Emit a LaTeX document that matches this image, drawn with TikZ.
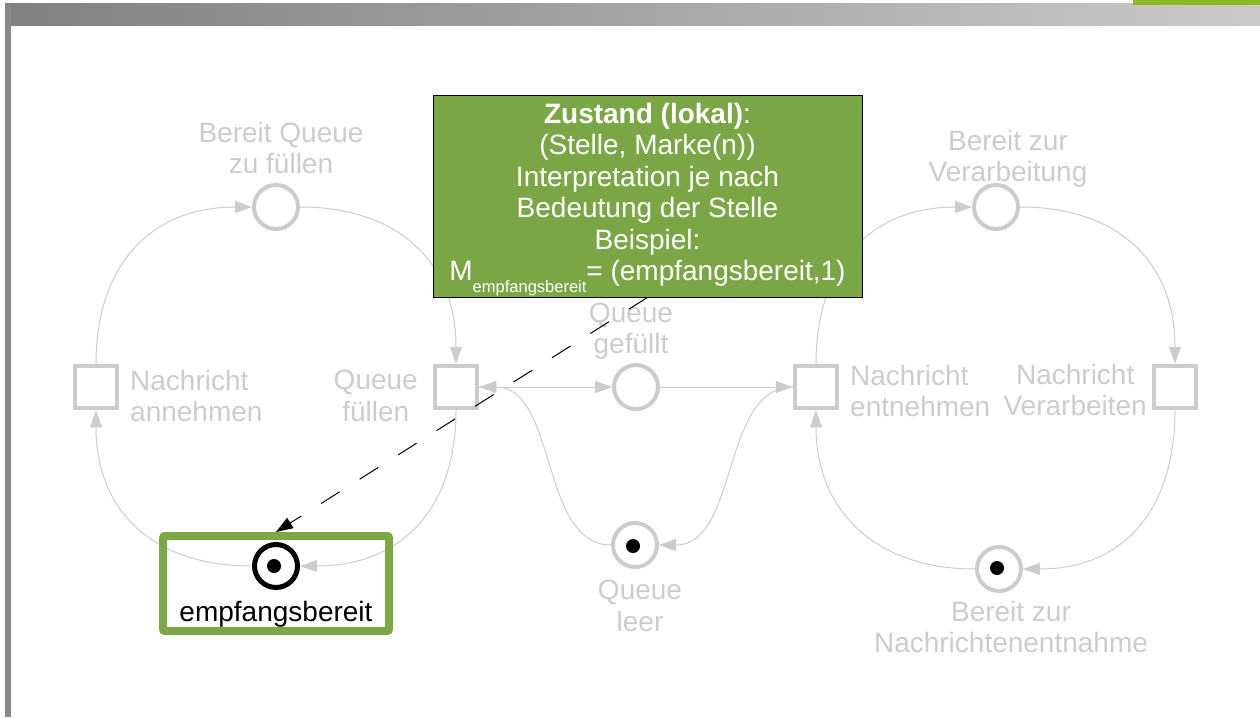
\documentclass[tikz,border=0pt]{standalone}
\usepackage{fontspec}
\setmainfont{Liberation Sans}
\usetikzlibrary{arrows.meta}
\definecolor{petrigray}{RGB}{204,204,204}
\definecolor{hlgreen}{RGB}{125,166,72}
\definecolor{boxgreen}{RGB}{123,166,70}
\definecolor{topgreen}{RGB}{140,184,40}
\definecolor{barleft}{RGB}{128,128,128}
\definecolor{barright}{RGB}{202,202,202}
\definecolor{stripgray}{RGB}{136,136,136}

\begin{document}
\begin{tikzpicture}[x=1pt,y=-1pt,
  place/.style={circle,draw=petrigray,line width=4pt,minimum size=44pt,inner sep=0pt},
  trans/.style={rectangle,draw=petrigray,line width=4.5pt,minimum size=42pt,inner sep=0pt},
  lbl/.style={text=petrigray,align=center,font=\fontsize{28}{31.5}\selectfont,inner sep=0pt},
  flow/.style={draw=petrigray,line width=1pt,-{Triangle[length=17pt,width=12pt]}},
  token/.style={circle,fill=black,minimum size=14pt,inner sep=0pt},
]
\useasboundingbox (0,0) rectangle (1260,717);

% page frame: title bar, left strip, corner tab
\shade[left color=barleft,right color=barright] (5,4) rectangle (1260,26);
\fill[stripgray] (5,4) rectangle (11,717);
\fill[topgreen] (1133,0) rectangle (1260,5);

% places
\node[place] (pBQ) at (276,207) {};
\node[place] (pQG) at (636,387) {};
\node[place] (pQL) at (635,545) {};
\node[place] (pBV) at (996,207) {};
\node[place] (pBN) at (999,569) {};
\node[place,draw=black,line width=5pt,minimum size=43pt] (pE) at (276,566) {};

% transitions
\node[trans] (tNA) at (96,387) {};
\node[trans] (tQF) at (456,387) {};
\node[trans] (tNE) at (816,387) {};
\node[trans] (tNV) at (1175,387) {};

% tokens
\node[token] (kQL) at (633,546) {};
\node[token] (kBN) at (997,568) {};
\node[token] (kE) at (274,566) {};

% labels
\node[lbl] (lBQ) at (281,148) {Bereit Queue\\zu füllen};
\node[lbl,align=left,anchor=west] (lNA) at (130,396) {Nachricht\\annehmen};
\node[lbl,anchor=east] (lQF) at (418,396) {Queue\\füllen};
\node[lbl] (lQG) at (631,331) {Queue\\gefüllt};
\node[lbl] (lQL) at (640,606) {Queue\\leer};
\node[lbl,align=left,anchor=west] (lNE) at (850,391) {Nachricht\\entnehmen};
\node[lbl,anchor=east] (lNV) at (1147,390) {Nachricht\\Verarbeiten};
\node[lbl] (lBV) at (1008,159) {Bereit zur\\Verarbeitung};
\node[lbl] (lBN) at (1011,627) {Bereit zur\\Nachrichtenentnahme};

% arcs, left cycle
\draw[flow] (tNA.north) .. controls +(0,-100) and +(-100,0) .. (pBQ.west);
\draw[flow] (pBQ.east) .. controls +(100,0) and +(0,-100) .. (tQF.north);
\draw[flow] (tQF.south) .. controls +(0,100) and +(100,0) .. (pE.east);
\draw[flow] (pE.west) .. controls +(-100,0) and +(0,100) .. (tNA.south);

% arcs, queue
\draw[flow] (tQF.east) -- (pQG.west);
\draw[flow] (pQL.west) .. controls +(-71,0) and +(78,0) .. (tQF.east);
\draw[flow] (pQG.east) -- (tNE.west);
\draw[flow] (tNE.west) .. controls +(-72,0) and +(80,0) .. (pQL.east);

% arcs, right cycle
\draw[flow] (tNE.north) .. controls +(0,-100) and +(-100,0) .. (pBV.west);
\draw[flow] (pBV.east) .. controls +(100,0) and +(0,-100) .. (tNV.north);
\draw[flow] (tNV.south) .. controls +(0,100) and +(100,0) .. (pBN.east);
\draw[flow] (pBN.west) .. controls +(-100,0) and +(0,100) .. (tNE.south);

% highlighted place
\node[draw=hlgreen,line width=8pt,rounded corners=2pt,minimum width=226pt,minimum height=95pt,inner sep=0pt] (hl) at (276,583.5) {};
\node[inner sep=0pt,font=\fontsize{28}{31.5}\selectfont] (lE) at (276,614) {empfangsbereit};

% explanation box
\node[draw=black,line width=0.8pt,fill=boxgreen,text=white,align=center,
      minimum width=429pt,minimum height=202pt,inner sep=0pt,
      font=\fontsize{28}{31.5}\selectfont] (info) at (647.5,196)
  {\rule{0pt}{27pt}\textbf{Zustand (lokal)}:\\(Stelle, Marke(n))\\Interpretation je nach\\Bedeutung der Stelle\\Beispiel:\\M\raisebox{-12pt}{\fontsize{16.5}{18}\selectfont empfangsbereit}= (empfangsbereit,1)};

\draw[line width=1pt,dash pattern=on 22pt off 23.5pt,-{Triangle[length=17pt,width=12pt]}] (info.south) -- (hl.north);
\end{tikzpicture}
\end{document}
